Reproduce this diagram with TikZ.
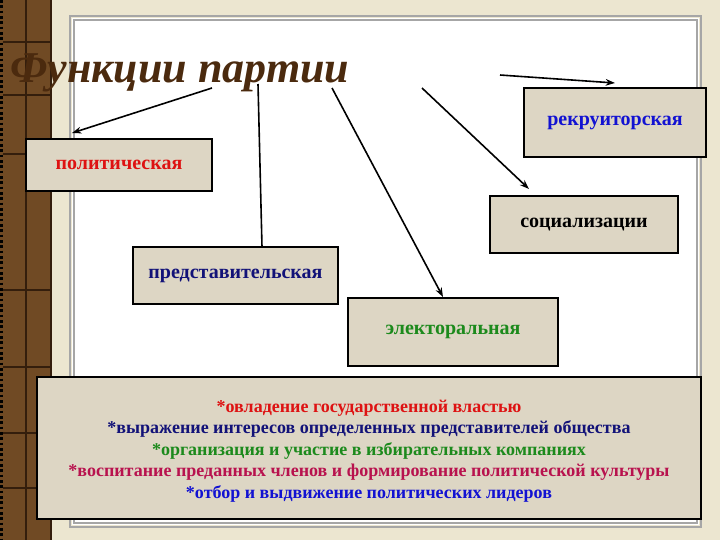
\documentclass[tikz,border=0pt]{standalone}
\usepackage{fontspec}
\setmainfont{Liberation Serif}
\usetikzlibrary{arrows.meta}
\definecolor{paper}{RGB}{236,230,208}
\definecolor{wood}{RGB}{112,74,36}
\definecolor{woodline}{RGB}{52,30,12}
\definecolor{boxfill}{RGB}{221,214,196}
\definecolor{titlebrown}{RGB}{75,42,14}
\definecolor{fred}{RGB}{222,18,18}
\definecolor{fnavy}{RGB}{18,18,120}
\definecolor{fgreen}{RGB}{28,138,28}
\definecolor{fcrimson}{RGB}{184,18,78}
\definecolor{fblue}{RGB}{18,18,210}
\tikzset{
  fnbox/.style={draw=black, fill=boxfill, line width=0.9pt, inner sep=0pt,
    font=\bfseries\fontsize{15}{17}\selectfont},
  fnarrow/.style={line width=1.2pt, -{Stealth[length=7pt,width=5pt]}},
  fnline/.style={line width=1.2pt}
}
\begin{document}
\begin{tikzpicture}[x=0.75pt,y=0.75pt,yscale=-1,xscale=1]
\useasboundingbox (0,0) rectangle (720,540);

% Background
\fill [paper] (0,0) rectangle (720,540);
% Wood strip
\fill [wood] (0,0) rectangle (51,540);
\draw [woodline, line width=0.8pt] (26,0) -- (26,540);
\foreach \yy in {42,95,154,290,367,433,488}
  \draw [woodline, line width=0.8pt] (3,\yy) -- (51,\yy);
\draw [black, line width=2pt, dash pattern={on 2pt off 2pt}] (1.5,0) -- (1.5,540);
\draw [woodline, line width=1.2pt] (51,0) -- (51,540);
% Panel
\fill [white] (72,18) rectangle (699,525);
\draw [gray!70, line width=1pt] (70,16) rectangle (701,527);
\draw [gray!70, line width=1pt] (74,20) rectangle (697,523);

% Title
\node (title) [anchor=base west, inner sep=0pt, text=titlebrown,
  font=\bfseries\itshape\fontsize{33}{37}\selectfont] at (10,82) {Функции партии};

% Function boxes
\node (rekr) [fnbox, minimum width=136.5pt, minimum height=51.75pt, text=fblue] at (615,122.5) {рекруиторская};
\node (pol) [fnbox, minimum width=139.5pt, minimum height=39pt, text=fred] at (119,165) {политическая};
\node (soc) [fnbox, minimum width=141pt, minimum height=42.75pt, text=black] at (584,224.5) {социализации};
\node (repr) [fnbox, minimum width=153.75pt, minimum height=42.75pt, text=fnavy] at (235.5,275.5) {представительская};
\node (elect) [fnbox, minimum width=157.5pt, minimum height=51pt, text=fgreen] at (453,332) {электоральная};

% Summary box
\node (summary) [fnbox, minimum width=498pt, minimum height=106.5pt] at (369,448) {};
\node (summarytext) [inner sep=0pt, align=center,
  font=\bfseries\fontsize{13.5}{16.1}\selectfont] at (369,451)
  {\textcolor{fred}{*овладение государственной властью}\\
   \textcolor{fnavy}{*выражение интересов определенных представителей общества}\\
   \textcolor{fgreen}{*организация и участие в избирательных компаниях}\\
   \textcolor{fcrimson}{*воспитание преданных членов и формирование политической культуры}\\
   \textcolor{fblue}{*отбор и выдвижение политических лидеров}};

% Connections
\coordinate (polT) at (212,88);
\coordinate (polH) at (72,133);
\coordinate (reprT) at (258,84);
\coordinate (reprH) at (262,247);
\coordinate (electT) at (332,88);
\coordinate (electH) at (443,297);
\coordinate (socT) at (422,88);
\coordinate (socH) at (529,189);
\coordinate (rekrT) at (500,75);
\coordinate (rekrH) at (615,83);
\draw [fnarrow] (polT) -- (polH);
\draw [fnline] (reprT) -- (reprH);
\draw [fnarrow] (electT) -- (electH);
\draw [fnarrow] (socT) -- (socH);
\draw [fnarrow] (rekrT) -- (rekrH);

\end{tikzpicture}
\end{document}
